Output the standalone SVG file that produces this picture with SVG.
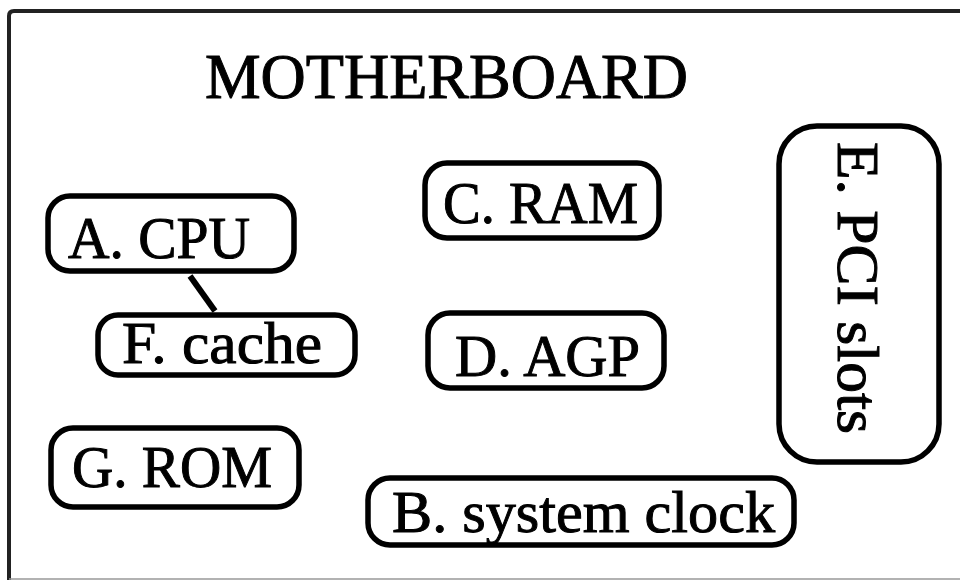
<svg xmlns="http://www.w3.org/2000/svg" width="960" height="582" viewBox="0 0 960 582">
<style>
.box{fill:#fff;stroke:#000;stroke-width:5.5}
.lbl{font-family:"Liberation Serif","Times New Roman",serif;font-size:60px;fill:#000;stroke:#000;stroke-width:1}
.ttl{font-family:"Liberation Serif","Times New Roman",serif;font-size:64px;fill:#000;stroke:#000;stroke-width:1}
.conn{stroke:#000;stroke-width:6;fill:none}
</style>
<rect width="960" height="582" fill="#fff"/>
<g id="frame">
<path d="M9 580 V16 Q9 11 14 11 H960" fill="none" stroke="#222" stroke-width="4"/>
<line x1="9" y1="579" x2="960" y2="579" stroke="#999" stroke-width="1.5"/>
</g>
<text id="title" class="ttl" x="205" y="98" textLength="483" lengthAdjust="spacingAndGlyphs">MOTHERBOARD</text>
<g id="connectors">
<line class="conn" x1="190" y1="276" x2="215" y2="311"/>
</g>
<g id="nodeA">
<rect class="box" x="48" y="196" width="246" height="75" rx="22"/>
<text class="lbl" x="68" y="258" textLength="182" lengthAdjust="spacingAndGlyphs">A. CPU</text>
</g>
<g id="nodeF">
<rect class="box" x="98" y="315" width="257" height="60" rx="20"/>
<text class="lbl" x="122" y="363" textLength="200" lengthAdjust="spacingAndGlyphs">F. cache</text>
</g>
<g id="nodeG">
<rect class="box" x="51" y="428" width="248" height="79" rx="22"/>
<text class="lbl" x="72" y="487" textLength="200" lengthAdjust="spacingAndGlyphs">G. ROM</text>
</g>
<g id="nodeC">
<rect class="box" x="425" y="163" width="234" height="75" rx="22"/>
<text class="lbl" x="443" y="223" textLength="195" lengthAdjust="spacingAndGlyphs">C. RAM</text>
</g>
<g id="nodeD">
<rect class="box" x="428" y="313" width="236" height="75" rx="22"/>
<text class="lbl" x="455" y="376" textLength="185" lengthAdjust="spacingAndGlyphs">D. AGP</text>
</g>
<g id="nodeB">
<rect class="box" x="368" y="478" width="426" height="67" rx="22"/>
<text class="lbl" x="392" y="532" textLength="383" lengthAdjust="spacingAndGlyphs">B. system clock</text>
</g>
<g id="nodeE">
<rect class="box" x="779" y="126" width="160" height="336" rx="38"/>
<text class="lbl" transform="translate(838 142) rotate(90)" x="0" y="0" textLength="292" lengthAdjust="spacingAndGlyphs">E. PCI slots</text>
</g>
</svg>
